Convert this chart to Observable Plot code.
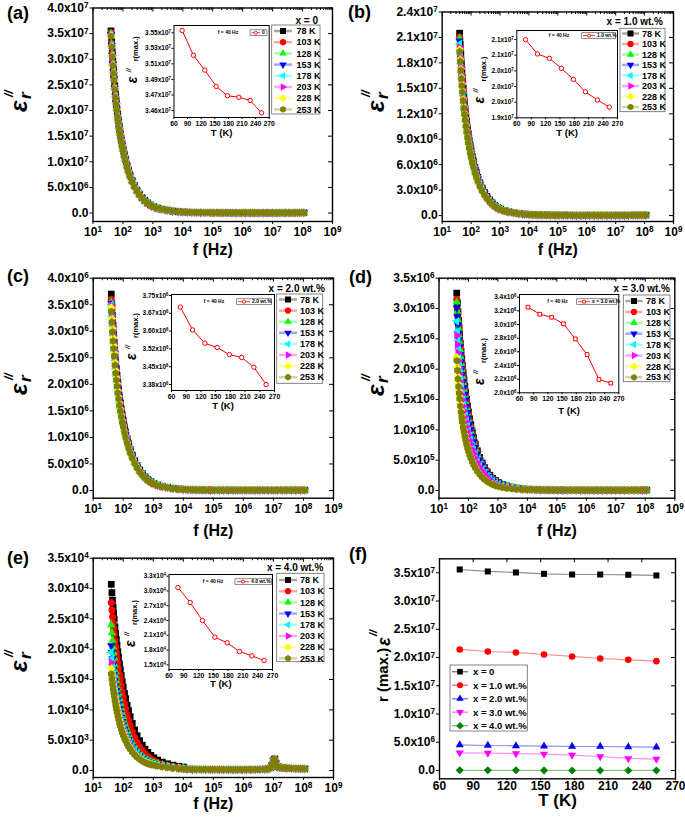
<!DOCTYPE html>
<html><head><meta charset="utf-8">
<script src="https://cdn.jsdelivr.net/npm/d3@7"></script>
<script src="https://cdn.jsdelivr.net/npm/@observablehq/plot@0.6"></script>
<style>
body{margin:0;background:#fff;}
#wrap{position:relative;width:685px;height:819px;overflow:hidden;background:#fff;}
</style></head><body><div id="wrap"></div>
<script>
// ---------------- DATA ----------------
const temps = ["78 K","103 K","128 K","153 K","178 K","203 K","228 K","253 K"];
const tempK = [78,103,128,153,178,203,228,253];
const freq = [40,42,44,46,48,50,53,56,59,62,66,70,75,80,86,93,100,110,120,135,150,170,200,240,290,350,430,530,660,830,1050,1400,2000,3000,4500,7000,10000];
const tailFreq = [1.4e4,2e4,2.8e4,4e4,5.6e4,8e4,1.1e5,1.6e5,2.2e5,3.2e5,4.5e5,6.3e5,9e5,1.26e6,1.8e6,2.5e6,3.5e6,5e6,7e6,1e7,1.4e7,2e7,2.8e7,4e7,5.6e7,8e7,1.1e8];
const tailFreqE = [1.4e4,2e4,2.8e4,4e4,5.6e4,8e4,1.1e5,1.6e5,2.2e5,3.2e5,4.5e5,6.3e5,9e5,1.26e6,1.8e6,2.5e6,3.5e6,5e6,6.5e6,8e6,9e6,1e7,1.1e7,1.2e7,1.35e7,1.6e7,2e7,2.8e7,4e7,5.6e7,8e7,1.1e8];

// panel (a), x = 0, units 1e7
const a78 = [3.553,3.340,3.144,2.967,2.814,2.672,2.487,2.327,2.192,2.071,1.936,1.819,1.691,1.581,1.467,1.357,1.265,1.151,1.055,0.938,0.846,0.746,0.640,0.537,0.448,0.373,0.306,0.249,0.199,0.160,0.128,0.099,0.075,0.057,0.039,0.028,0.021];
const a103 = [3.521,3.310,3.116,2.940,2.789,2.648,2.465,2.306,2.172,2.053,1.919,1.803,1.676,1.567,1.454,1.345,1.253,1.141,1.046,0.930,0.838,0.739,0.634,0.532,0.444,0.370,0.303,0.246,0.197,0.158,0.127,0.099,0.074,0.056,0.039,0.028,0.021];
const a128 = [3.502,3.292,3.099,2.924,2.774,2.634,2.451,2.294,2.161,2.042,1.909,1.793,1.667,1.558,1.446,1.338,1.247,1.135,1.040,0.925,0.833,0.735,0.630,0.529,0.441,0.368,0.301,0.245,0.196,0.158,0.126,0.098,0.074,0.056,0.039,0.028,0.021];
const a153 = [3.481,3.272,3.081,2.907,2.757,2.618,2.437,2.280,2.148,2.029,1.897,1.782,1.657,1.549,1.438,1.330,1.239,1.128,1.034,0.919,0.828,0.731,0.627,0.526,0.439,0.366,0.299,0.244,0.195,0.157,0.125,0.097,0.073,0.056,0.038,0.028,0.021];
const a178 = [3.469,3.261,3.070,2.897,2.747,2.609,2.428,2.272,2.140,2.022,1.891,1.776,1.651,1.544,1.433,1.325,1.235,1.124,1.030,0.916,0.826,0.728,0.624,0.524,0.437,0.364,0.298,0.243,0.194,0.156,0.125,0.097,0.073,0.056,0.038,0.028,0.021];
const a203 = [3.467,3.259,3.068,2.895,2.746,2.607,2.427,2.271,2.139,2.021,1.889,1.775,1.650,1.543,1.432,1.324,1.234,1.123,1.030,0.915,0.825,0.728,0.624,0.524,0.437,0.364,0.298,0.243,0.194,0.156,0.125,0.097,0.073,0.055,0.038,0.028,0.021];
const a228 = [3.463,3.255,3.065,2.892,2.743,2.604,2.424,2.268,2.137,2.019,1.887,1.773,1.648,1.541,1.430,1.323,1.233,1.122,1.029,0.914,0.824,0.727,0.623,0.523,0.436,0.364,0.298,0.242,0.194,0.156,0.125,0.097,0.073,0.055,0.038,0.028,0.021];
const a253 = [3.447,3.240,3.051,2.878,2.730,2.592,2.413,2.258,2.127,2.010,1.879,1.765,1.641,1.534,1.424,1.317,1.227,1.117,1.024,0.910,0.820,0.724,0.620,0.520,0.434,0.362,0.296,0.241,0.193,0.155,0.124,0.097,0.072,0.055,0.038,0.028,0.021];
const tailA = [0.016,0.013,0.011,0.009,0.008,0.007,0.006,0.006,0.005,0.005,0.005,0.004,0.004,0.004,0.004,0.004,0.004,0.004,0.004,0.004,0.004,0.005,0.005,0.005,0.006,0.006,0.007];

// panel (b), x = 1.0 wt.%, units 1e7
const b78 = [2.150,2.021,1.903,1.795,1.703,1.617,1.505,1.408,1.327,1.253,1.172,1.101,1.023,0.957,0.888,0.821,0.765,0.697,0.639,0.568,0.512,0.452,0.387,0.325,0.271,0.226,0.185,0.151,0.120,0.097,0.077,0.060,0.045,0.034,0.024,0.017,0.013];
const b103 = [2.104,1.978,1.862,1.757,1.666,1.582,1.473,1.378,1.298,1.227,1.147,1.077,1.002,0.936,0.869,0.804,0.749,0.682,0.625,0.555,0.501,0.442,0.379,0.318,0.265,0.221,0.181,0.147,0.118,0.095,0.076,0.059,0.044,0.034,0.023,0.017,0.013];
const b128 = [2.090,1.965,1.850,1.745,1.655,1.572,1.463,1.369,1.290,1.218,1.139,1.070,0.995,0.930,0.863,0.798,0.744,0.677,0.621,0.552,0.497,0.439,0.376,0.316,0.263,0.219,0.180,0.146,0.117,0.094,0.075,0.059,0.044,0.033,0.023,0.017,0.013];
const b153 = [2.058,1.935,1.821,1.718,1.630,1.548,1.441,1.348,1.270,1.200,1.122,1.054,0.980,0.916,0.850,0.786,0.733,0.667,0.611,0.543,0.490,0.432,0.370,0.311,0.259,0.216,0.177,0.144,0.115,0.093,0.074,0.058,0.043,0.033,0.023,0.016,0.012];
const b178 = [2.023,1.902,1.790,1.689,1.602,1.521,1.416,1.325,1.248,1.179,1.103,1.036,0.963,0.900,0.835,0.773,0.720,0.655,0.601,0.534,0.481,0.425,0.364,0.305,0.255,0.212,0.174,0.142,0.113,0.091,0.073,0.057,0.042,0.032,0.022,0.016,0.012];
const b203 = [1.983,1.864,1.755,1.656,1.571,1.491,1.388,1.299,1.224,1.156,1.081,1.015,0.944,0.882,0.819,0.758,0.706,0.643,0.589,0.524,0.472,0.416,0.357,0.299,0.250,0.208,0.171,0.139,0.111,0.089,0.071,0.056,0.042,0.032,0.022,0.016,0.012];
const b228 = [1.957,1.840,1.732,1.634,1.550,1.472,1.370,1.282,1.207,1.141,1.067,1.002,0.932,0.871,0.808,0.748,0.697,0.634,0.581,0.517,0.466,0.411,0.352,0.296,0.247,0.205,0.168,0.137,0.110,0.088,0.070,0.055,0.041,0.031,0.022,0.016,0.012];
const b253 = [1.934,1.818,1.712,1.615,1.532,1.454,1.354,1.267,1.193,1.128,1.054,0.990,0.921,0.861,0.799,0.739,0.689,0.627,0.574,0.511,0.460,0.406,0.348,0.292,0.244,0.203,0.166,0.135,0.108,0.087,0.070,0.054,0.041,0.031,0.021,0.015,0.012];
const tailB = [0.010,0.008,0.007,0.006,0.005,0.005,0.004,0.004,0.004,0.003,0.003,0.003,0.003,0.003,0.003,0.003,0.003,0.003,0.003,0.003,0.003,0.003,0.003,0.004,0.004,0.004,0.005];

// panel (c), x = 2.0 wt.%, units 1e6
const c78 = [3.701,3.479,3.275,3.090,2.931,2.783,2.591,2.424,2.284,2.158,2.017,1.895,1.762,1.647,1.529,1.414,1.318,1.199,1.099,0.977,0.881,0.777,0.666,0.559,0.466,0.389,0.318,0.259,0.207,0.167,0.133,0.104,0.078,0.059,0.041,0.030,0.022];
const c103 = [3.605,3.389,3.190,3.010,2.855,2.711,2.524,2.361,2.224,2.102,1.965,1.846,1.716,1.604,1.489,1.377,1.283,1.168,1.071,0.952,0.858,0.757,0.649,0.544,0.454,0.379,0.310,0.252,0.202,0.162,0.130,0.101,0.076,0.058,0.040,0.029,0.022];
const c128 = [3.549,3.336,3.141,2.963,2.811,2.669,2.484,2.325,2.190,2.069,1.934,1.817,1.689,1.579,1.466,1.356,1.263,1.150,1.054,0.937,0.845,0.745,0.639,0.536,0.447,0.373,0.305,0.248,0.199,0.160,0.128,0.099,0.075,0.057,0.039,0.028,0.021];
const c153 = [3.531,3.319,3.125,2.948,2.797,2.655,2.472,2.313,2.179,2.059,1.924,1.808,1.681,1.571,1.458,1.349,1.257,1.144,1.049,0.932,0.840,0.742,0.636,0.533,0.445,0.371,0.304,0.247,0.198,0.159,0.127,0.099,0.074,0.056,0.039,0.028,0.021];
const c178 = [3.501,3.291,3.098,2.923,2.773,2.633,2.451,2.293,2.160,2.041,1.908,1.793,1.666,1.558,1.446,1.337,1.246,1.134,1.040,0.924,0.833,0.735,0.630,0.529,0.441,0.368,0.301,0.245,0.196,0.158,0.126,0.098,0.074,0.056,0.039,0.028,0.021];
const c203 = [3.489,3.280,3.088,2.913,2.763,2.624,2.442,2.285,2.153,2.034,1.902,1.786,1.661,1.553,1.441,1.333,1.242,1.130,1.036,0.921,0.830,0.733,0.628,0.527,0.440,0.366,0.300,0.244,0.195,0.157,0.126,0.098,0.073,0.056,0.038,0.028,0.021];
const c228 = [3.448,3.241,3.051,2.879,2.731,2.593,2.414,2.258,2.127,2.010,1.879,1.765,1.641,1.534,1.424,1.317,1.227,1.117,1.024,0.910,0.821,0.724,0.621,0.521,0.434,0.362,0.297,0.241,0.193,0.155,0.124,0.097,0.072,0.055,0.038,0.028,0.021];
const c253 = [3.375,3.173,2.987,2.818,2.673,2.538,2.363,2.211,2.082,1.968,1.839,1.728,1.607,1.502,1.394,1.289,1.202,1.094,1.002,0.891,0.803,0.709,0.608,0.510,0.425,0.354,0.290,0.236,0.189,0.152,0.122,0.095,0.071,0.054,0.037,0.027,0.020];
const tailC = [0.017,0.014,0.012,0.010,0.009,0.008,0.007,0.007,0.006,0.006,0.006,0.005,0.005,0.005,0.005,0.005,0.005,0.005,0.005,0.005,0.005,0.005,0.006,0.006,0.006,0.007,0.007];

// panel (d), x = 3.0 wt.%, units 1e6
const d78 = [3.254,3.091,2.945,2.805,2.685,2.571,2.424,2.294,2.174,2.070,1.946,1.839,1.718,1.614,1.503,1.393,1.295,1.181,1.087,0.966,0.869,0.768,0.654,0.547,0.456,0.377,0.309,0.251,0.202,0.163,0.130,0.101,0.075,0.055,0.039,0.026,0.020];
const d103 = [3.151,2.993,2.852,2.716,2.600,2.489,2.347,2.221,2.105,2.004,1.884,1.780,1.664,1.563,1.456,1.349,1.254,1.144,1.052,0.936,0.841,0.744,0.633,0.529,0.441,0.366,0.299,0.243,0.195,0.158,0.126,0.098,0.072,0.054,0.038,0.025,0.019];
const d128 = [3.107,2.952,2.812,2.678,2.563,2.455,2.315,2.190,2.075,1.976,1.858,1.755,1.640,1.541,1.435,1.330,1.237,1.128,1.038,0.923,0.830,0.733,0.625,0.522,0.435,0.360,0.295,0.239,0.193,0.155,0.124,0.096,0.071,0.053,0.037,0.025,0.019];
const d153 = [3.010,2.860,2.724,2.595,2.483,2.378,2.242,2.122,2.011,1.914,1.800,1.701,1.589,1.493,1.391,1.288,1.198,1.093,1.005,0.894,0.804,0.710,0.605,0.506,0.421,0.349,0.286,0.232,0.187,0.151,0.120,0.093,0.069,0.051,0.036,0.024,0.018];
const d178 = [2.790,2.623,2.469,2.330,2.210,2.098,1.953,1.827,1.721,1.627,1.521,1.428,1.328,1.242,1.152,1.066,0.993,0.904,0.829,0.737,0.664,0.586,0.502,0.421,0.352,0.293,0.240,0.195,0.156,0.126,0.100,0.078,0.059,0.045,0.031,0.022,0.017];
const d203 = [2.560,2.406,2.266,2.138,2.028,1.925,1.792,1.677,1.580,1.492,1.395,1.311,1.219,1.139,1.057,0.978,0.911,0.829,0.760,0.676,0.609,0.538,0.461,0.387,0.323,0.269,0.220,0.179,0.143,0.115,0.092,0.072,0.054,0.041,0.028,0.020,0.015];
const d228 = [2.195,2.030,1.883,1.756,1.646,1.550,1.427,1.324,1.236,1.159,1.071,0.999,0.918,0.852,0.784,0.720,0.665,0.601,0.549,0.485,0.435,0.382,0.325,0.272,0.226,0.189,0.154,0.125,0.101,0.081,0.066,0.050,0.037,0.029,0.020,0.015,0.011];
const d253 = [2.141,1.980,1.837,1.713,1.606,1.512,1.392,1.291,1.205,1.130,1.045,0.974,0.895,0.831,0.764,0.702,0.649,0.587,0.535,0.473,0.424,0.373,0.317,0.265,0.221,0.184,0.150,0.122,0.098,0.079,0.064,0.049,0.036,0.028,0.019,0.015,0.011];
const tailD = [0.016,0.013,0.011,0.010,0.009,0.008,0.007,0.007,0.006,0.006,0.006,0.005,0.005,0.005,0.005,0.005,0.005,0.005,0.005,0.005,0.005,0.005,0.006,0.006,0.006,0.007,0.007];

// panel (e), x = 4.0 wt.%, units 1e4
const e78 = [3.070,2.932,2.809,2.695,2.594,2.496,2.370,2.260,2.158,2.066,1.959,1.863,1.756,1.661,1.563,1.461,1.375,1.271,1.185,1.075,0.985,0.887,0.777,0.669,0.574,0.491,0.418,0.353,0.298,0.249,0.209,0.172,0.138,0.111,0.089,0.071,0.058];
const e103 = [2.770,2.645,2.535,2.432,2.341,2.252,2.138,2.039,1.947,1.864,1.767,1.681,1.584,1.499,1.400,1.298,1.210,1.105,1.020,0.915,0.830,0.738,0.638,0.543,0.462,0.392,0.330,0.277,0.232,0.193,0.160,0.132,0.105,0.084,0.067,0.053,0.042];
const e128 = [2.400,2.268,2.148,2.040,1.944,1.853,1.733,1.630,1.538,1.457,1.361,1.277,1.186,1.106,1.025,0.943,0.876,0.799,0.737,0.658,0.595,0.530,0.458,0.391,0.334,0.283,0.238,0.199,0.168,0.149,0.132,0.110,0.091,0.072,0.058,0.046,0.036];
const e153 = [2.060,1.947,1.844,1.751,1.669,1.590,1.487,1.399,1.320,1.250,1.168,1.096,1.018,0.950,0.880,0.810,0.752,0.686,0.632,0.564,0.511,0.455,0.393,0.336,0.286,0.243,0.204,0.171,0.144,0.128,0.113,0.095,0.078,0.062,0.049,0.039,0.031];
const e178 = [1.950,1.843,1.745,1.658,1.580,1.505,1.408,1.324,1.250,1.184,1.106,1.037,0.963,0.899,0.833,0.766,0.712,0.649,0.599,0.534,0.484,0.431,0.372,0.318,0.271,0.230,0.193,0.162,0.137,0.121,0.107,0.090,0.074,0.059,0.047,0.037,0.029];
const e203 = [1.780,1.682,1.593,1.513,1.442,1.374,1.285,1.209,1.141,1.080,1.009,0.947,0.879,0.821,0.760,0.700,0.650,0.593,0.546,0.488,0.441,0.393,0.340,0.290,0.247,0.210,0.176,0.148,0.125,0.110,0.098,0.082,0.068,0.053,0.043,0.034,0.027];
const e228 = [1.680,1.588,1.504,1.428,1.361,1.297,1.213,1.141,1.077,1.020,0.953,0.894,0.830,0.774,0.717,0.660,0.613,0.559,0.516,0.460,0.417,0.371,0.321,0.274,0.234,0.198,0.166,0.139,0.118,0.104,0.092,0.077,0.064,0.050,0.040,0.032,0.025];
const e253 = [1.590,1.503,1.423,1.352,1.288,1.227,1.148,1.080,1.019,0.965,0.902,0.846,0.785,0.733,0.679,0.625,0.580,0.529,0.488,0.436,0.394,0.351,0.304,0.259,0.221,0.188,0.157,0.132,0.111,0.099,0.087,0.073,0.060,0.048,0.038,0.030,0.024];
const tailE = [0.022,0.020,0.019,0.018,0.017,0.016,0.016,0.015,0.015,0.015,0.014,0.014,0.014,0.015,0.015,0.016,0.018,0.021,0.026,0.045,0.090,0.160,0.190,0.120,0.070,0.050,0.045,0.040,0.035,0.032,0.030,0.030];

// insets: eps''r(max.) at f = 40 Hz
const insetA = [3.553,3.521,3.502,3.481,3.469,3.467,3.463,3.447]; // 1e7
const insetB = [2.150,2.104,2.090,2.058,2.023,1.983,1.957,1.934]; // 1e7
const insetC = [3.701,3.605,3.549,3.531,3.501,3.489,3.448,3.375]; // 1e6
const insetD = [3.254,3.151,3.107,3.010,2.790,2.560,2.195,2.141]; // 1e6
const insetE = [3.070,2.765,2.400,2.061,1.946,1.770,1.682,1.588]; // 1e4

// panel (f), units 1e7
const fX0 = [3.559,3.524,3.506,3.482,3.470,3.470,3.465,3.453];
const fX1 = [2.143,2.107,2.090,2.054,2.019,1.983,1.960,1.936];
const fX2 = [0.455,0.443,0.437,0.431,0.425,0.425,0.419,0.413];
const fX3 = [0.313,0.307,0.301,0.289,0.272,0.248,0.213,0.201];
const fX4 = [0.0031,0.0028,0.0024,0.0021,0.0019,0.0018,0.0017,0.0016];
const fNames = ["x = 0","x = 1.0 wt.%","x = 2.0 wt.%","x = 3.0 wt.%","x = 4.0 wt.%"];

// tick values and labels
const xTicks = [1e1,1e2,1e3,1e4,1e5,1e6,1e7,1e8,1e9];
const xLabels = ["10^1","10^2","10^3","10^4","10^5","10^6","10^7","10^8","10^9"];
const tTicks = [60,90,120,150,180,210,240,270];
const tLabels = ["60","90","120","150","180","210","240","270"];
const yTicksA = [0,5e6,1e7,1.5e7,2e7,2.5e7,3e7,3.5e7,4e7];
const yLabelsA = ["0.0","5.0x10^6","1.0x10^7","1.5x10^7","2.0x10^7","2.5x10^7","3.0x10^7","3.5x10^7","4.0x10^7"];
const yTicksB = [0,3e6,6e6,9e6,1.2e7,1.5e7,1.8e7,2.1e7,2.4e7];
const yLabelsB = ["0.0","3.0x10^6","6.0x10^6","9.0x10^6","1.2x10^7","1.5x10^7","1.8x10^7","2.1x10^7","2.4x10^7"];
const yTicksC = [0,5e5,1e6,1.5e6,2e6,2.5e6,3e6,3.5e6,4e6];
const yLabelsC = ["0.0","5.0x10^5","1.0x10^6","1.5x10^6","2.0x10^6","2.5x10^6","3.0x10^6","3.5x10^6","4.0x10^6"];
const yTicksD = [0,5e5,1e6,1.5e6,2e6,2.5e6,3e6,3.5e6];
const yLabelsD = ["0.0","5.0x10^5","1.0x10^6","1.5x10^6","2.0x10^6","2.5x10^6","3.0x10^6","3.5x10^6"];
const yTicksE = [0,5e3,1e4,1.5e4,2e4,2.5e4,3e4,3.5e4];
const yLabelsE = ["0.0","5.0x10^3","1.0x10^4","1.5x10^4","2.0x10^4","2.5x10^4","3.0x10^4","3.5x10^4"];
const yTicksF = [0,5e6,1e7,1.5e7,2e7,2.5e7,3e7,3.5e7];
const yLabelsF = ["0.0","5.0x10^6","1.0x10^7","1.5x10^7","2.0x10^7","2.5x10^7","3.0x10^7","3.5x10^7"];
const iTicksA = [3.55e7,3.53e7,3.51e7,3.49e7,3.47e7,3.45e7];
const iLabelsA = ["3.55x10^7","3.53x10^7","3.51x10^7","3.49x10^7","3.47x10^7","3.46x10^7"];
const iTicksB = [2.15e7,2.10e7,2.05e7,2.00e7,1.95e7,1.90e7];
const iLabelsB = ["2.1x10^7","2.1x10^7","2.0x10^7","2.0x10^7","2.0x10^7","1.9x10^7"];
const iTicksC = [3.75e6,3.675e6,3.60e6,3.525e6,3.45e6,3.375e6];
const iLabelsC = ["3.75x10^6","3.67x10^6","3.60x10^6","3.52x10^6","3.45x10^6","3.38x10^6"];
const iTicksD = [3.4e6,3.2e6,3.0e6,2.8e6,2.6e6,2.4e6,2.2e6,2.0e6];
const iLabelsD = ["3.4x10^6","3.2x10^6","3.0x10^6","2.8x10^6","2.6x10^6","2.4x10^6","2.2x10^6","2.0x10^6"];
const iTicksE = [3.3e4,3.0e4,2.7e4,2.4e4,2.1e4,1.8e4,1.5e4];
const iLabelsE = ["3.3x10^4","3.0x10^4","2.7x10^4","2.4x10^4","2.1x10^4","1.8x10^4","1.5x10^4"];

// ---------------- STYLE ----------------
const colors = ["#000000","#ff0000","#00ff00","#0000ff","#00ffff","#ff00ff","#ffff00","#808000"];
const fColors = ["#000000","#ff0000","#0000ff","#ff00ff","#008000"];
const S3 = Math.sqrt(3);
function triSym(rot) {
  return {draw(ctx, size) {
    const y = -Math.sqrt(size / (S3 * 3));
    const pts = [[0, y * 2], [-S3 * y, -y], [S3 * y, -y]].map(([x, yy]) =>
      rot === 0 ? [x, yy] : rot === 180 ? [-x, -yy] : rot === 90 ? [-yy, x] : [yy, -x]);
    ctx.moveTo(pts[0][0], pts[0][1]); ctx.lineTo(pts[1][0], pts[1][1]); ctx.lineTo(pts[2][0], pts[2][1]); ctx.closePath();
  }};
}
const triUp = triSym(0), triDown = triSym(180), triRight = triSym(90), triLeft = triSym(-90);
const diamondSym = {draw(ctx, size) { const d = Math.sqrt(size / 2); ctx.moveTo(0, -d); ctx.lineTo(d, 0); ctx.lineTo(0, d); ctx.lineTo(-d, 0); ctx.closePath(); }};
const hexSym = {draw(ctx, size) { const rr = Math.sqrt(size / (1.5 * S3)); for (let i = 0; i < 6; i++) { const a = Math.PI / 3 * i - Math.PI / 2; const x = rr * Math.cos(a), y = rr * Math.sin(a); if (i) ctx.lineTo(x, y); else ctx.moveTo(x, y); } ctx.closePath(); }};
const symbols = [d3.symbolSquare, d3.symbolCircle, triUp, triDown, triLeft, triRight, diamondSym, hexSym];
const radii = [3.8, 3.5, 3.1, 3.1, 3.1, 3.1, 3.4, 3.4];
const fSymbols = [d3.symbolSquare, d3.symbolCircle, triUp, triDown, diamondSym];
const fRadii = [3.4, 3.3, 3.0, 3.0, 3.2];
const FONT = "'Liberation Sans', Arial, sans-serif";
const xMinor = d3.range(1, 9).flatMap(e => d3.range(2, 10).map(k => k * Math.pow(10, e)));

const wrap = document.getElementById("wrap");
function place(svg, left, top) {
  svg.style.position = "absolute"; svg.style.left = left + "px"; svg.style.top = top + "px";
  wrap.appendChild(svg);
}
function supify(svg) {
  const ns = "http://www.w3.org/2000/svg";
  svg.querySelectorAll("text").forEach(t => {
    const s = t.textContent;
    if (!s || s.indexOf("^") < 0 || t.querySelector("tspan")) return;
    const [a, b] = s.split("^");
    t.textContent = "";
    const t1 = document.createElementNS(ns, "tspan"); t1.textContent = a; t.appendChild(t1);
    const t2 = document.createElementNS(ns, "tspan"); t2.textContent = b;
    t2.setAttribute("dy", "-0.45em"); t2.setAttribute("font-size", "0.68em"); t.appendChild(t2);
  });
}
function styleFor(fs) {
  return {background: "transparent", overflow: "visible", fontFamily: FONT, fontWeight: "bold", fontSize: fs + "px", color: "#000"};
}

// ---------------- MAIN PANELS ----------------
function mainPanel(o) {
  const marks = [];
  o.series.forEach((vals, k) => {
    const rows = freq.map((f, i) => ({f, v: vals[i] * o.unit}))
      .concat(o.tailFreq.map((f, i) => ({f, v: o.tail[i] * o.unit})));
    marks.push(Plot.line(rows, {x: "f", y: "v", stroke: colors[k], strokeWidth: 1.5, strokeOpacity: 0.4}));
    marks.push(Plot.dot(rows, {x: "f", y: "v", symbol: symbols[k], r: radii[k], fill: colors[k]}));
  });
  const fw = o.w - o.ml - o.mr, fh = o.h - o.mt - o.mb;
  marks.push(Plot.frame({stroke: "#000", strokeWidth: 1.4}));
  marks.push(Plot.axisY({ticks: o.yTicks, tickFormat: d => o.yLabels[o.yTicks.indexOf(d)], tickSize: 3, tickPadding: 1.5, label: null}));
  marks.push(Plot.axisX({ticks: xTicks, tickFormat: d => xLabels[xTicks.indexOf(d)], tickSize: 3, tickPadding: 3, label: null}));
  marks.push(Plot.tickX(xTicks, {x: d => d, insetBottom: fh - 4, strokeWidth: 1}));
  marks.push(Plot.tickX(xMinor, {x: d => d, insetBottom: fh - 2.5, strokeWidth: 1}));
  marks.push(Plot.tickY(o.yTicks, {y: d => d, insetLeft: fw - 4, strokeWidth: 1}));
  marks.push(Plot.text(["f (Hz)"], {text: d => d, frameAnchor: "bottom", dy: o.xlabelDy, fontSize: 16, fontWeight: "bold"}));
  const svg = Plot.plot({
    width: o.w, height: o.h, marginLeft: o.ml, marginRight: o.mr, marginTop: o.mt, marginBottom: o.mb,
    x: {type: "log", domain: [10, 1e9]}, y: {domain: o.ydom},
    style: styleFor(12), marks
  });
  supify(svg);
  place(svg, o.left, o.top);
}

mainPanel({left: 0, top: 0, w: 340, h: 262, ml: 92.5, mr: 8, mt: 7.5, mb: 41, unit: 1e7, ydom: [-1.65e6, 4.0e7],
  series: [a78, a103, a128, a153, a178, a203, a228, a253], tail: tailA, tailFreq, yTicks: yTicksA, yLabels: yLabelsA, xlabelDy: 33});
mainPanel({left: 340, top: 0, w: 345, h: 262, ml: 101.7, mr: 12, mt: 11.5, mb: 41, unit: 1e7, ydom: [-0.7e6, 2.4e7],
  series: [b78, b103, b128, b153, b178, b203, b228, b253], tail: tailB, tailFreq, yTicks: yTicksB, yLabels: yLabelsB, xlabelDy: 33});
mainPanel({left: 0, top: 262, w: 340, h: 283, ml: 92.7, mr: 7, mt: 15.7, mb: 47.3, unit: 1e6, ydom: [-0.145e6, 4.0e6],
  series: [c78, c103, c128, c153, c178, c203, c228, c253], tail: tailC, tailFreq, yTicks: yTicksC, yLabels: yLabelsC, xlabelDy: 38});
mainPanel({left: 340, top: 262, w: 345, h: 283, ml: 98.5, mr: 10.7, mt: 15.7, mb: 47.3, unit: 1e6, ydom: [-0.127e6, 3.5e6],
  series: [d78, d103, d128, d153, d178, d203, d228, d253], tail: tailD, tailFreq, yTicks: yTicksD, yLabels: yLabelsD, xlabelDy: 38});
mainPanel({left: 0, top: 545, w: 340, h: 274, ml: 92.7, mr: 7, mt: 12.7, mb: 42, unit: 1e4, ydom: [-1150, 35000],
  series: [e78, e103, e128, e153, e178, e203, e228, e253], tail: tailE, tailFreq: tailFreqE, yTicks: yTicksE, yLabels: yLabelsE, xlabelDy: 31});

// ---------------- PANEL (f) ----------------
(function () {
  const w = 345, h = 274, ml = 99, mr = 10, mt = 13.3, mb = 40.7;
  const fw = w - ml - mr, fh = h - mt - mb;
  const marks = [];
  [fX0, fX1, fX2, fX3, fX4].forEach((vals, k) => {
    const rows = tempK.map((t, i) => ({t, v: vals[i] * 1e7}));
    marks.push(Plot.line(rows, {x: "t", y: "v", stroke: fColors[k], strokeWidth: 1.2, strokeOpacity: 0.45}));
    marks.push(Plot.dot(rows, {x: "t", y: "v", symbol: fSymbols[k], r: fRadii[k], fill: fColors[k]}));
  });
  marks.push(Plot.frame({stroke: "#000", strokeWidth: 1.4}));
  marks.push(Plot.axisY({ticks: yTicksF, tickFormat: d => yLabelsF[yTicksF.indexOf(d)], tickSize: 3, tickPadding: 1.5, label: null}));
  marks.push(Plot.axisX({ticks: tTicks, tickFormat: d => tLabels[tTicks.indexOf(d)], tickSize: 2, tickPadding: 0.5, label: null}));
  marks.push(Plot.tickX(tTicks, {x: d => d, insetBottom: fh - 4}));
  marks.push(Plot.tickY(yTicksF, {y: d => d, insetLeft: fw - 4}));
  marks.push(Plot.text(["T (K)"], {text: d => d, frameAnchor: "bottom", dy: 27, fontSize: 17, fontWeight: "bold"}));
  const svg = Plot.plot({width: w, height: h, marginLeft: ml, marginRight: mr, marginTop: mt, marginBottom: mb,
    x: {domain: [60, 270]}, y: {domain: [-1.47e6, 3.748e7]}, style: styleFor(12), marks});
  supify(svg);
  place(svg, 340, 545);
})();

// ---------------- INSETS ----------------
function inset(o) {
  const rows = tempK.map((t, i) => ({t, v: o.vals[i] * o.unit}));
  const marks = [
    Plot.frame({fill: "#fff"}),
    Plot.line(rows, {x: "t", y: "v", stroke: "#ff0000", strokeWidth: 1}),
    Plot.dot(rows, {x: "t", y: "v", symbol: o.symbol, r: o.r, stroke: "#ff0000", strokeWidth: 1, fill: "#fff"}),
    Plot.frame({stroke: "#000", strokeWidth: 1}),
    Plot.axisY({ticks: o.yTicks, tickFormat: d => o.yLabels[o.yTicks.indexOf(d)], tickSize: 2, tickPadding: 1, label: null, fontSize: 6.5}),
    Plot.axisX({ticks: tTicks, tickFormat: d => tLabels[tTicks.indexOf(d)], tickSize: 2, tickPadding: 1.5, label: null, fontSize: 6.8}),
    Plot.text(["T (K)"], {text: d => d, frameAnchor: "bottom", dy: o.tdy, fontSize: 9.5, fontWeight: "bold"})
  ];
  const svg = Plot.plot({width: o.w, height: o.h, marginLeft: o.ml, marginRight: o.mr, marginTop: o.mt, marginBottom: o.mb,
    x: {domain: [60, 270]}, y: {domain: o.ydom}, style: styleFor(6.5), marks});
  supify(svg);
  place(svg, o.left, o.top);
}
inset({left: 130, top: 15, w: 150, h: 130, ml: 43.5, mr: 11.3, mt: 10, mb: 28, vals: insetA, unit: 1e7, ydom: [3.441e7, 3.5594e7], yTicks: iTicksA, yLabels: iLabelsA, symbol: d3.symbolCircle, r: 2.2, tdy: 18});
inset({left: 470, top: 20, w: 155, h: 130, ml: 46.3, mr: 8, mt: 10, mb: 32.7, vals: insetB, unit: 1e7, ydom: [1.90e7, 2.179e7], yTicks: iTicksB, yLabels: iLabelsB, symbol: d3.symbolCircle, r: 2.2, tdy: 18});
inset({left: 125, top: 284, w: 155, h: 130, ml: 46, mr: 6, mt: 10, mb: 24, vals: insetC, unit: 1e6, ydom: [3.350e6, 3.754e6], yTicks: iTicksC, yLabels: iLabelsC, symbol: d3.symbolCircle, r: 2.2, tdy: 18});
inset({left: 470, top: 284, w: 155, h: 135, ml: 49, mr: 6.7, mt: 10, mb: 26.7, vals: insetD, unit: 1e6, ydom: [2.0e6, 3.44e6], yTicks: iTicksD, yLabels: iLabelsD, symbol: d3.symbolSquare, r: 2.1, tdy: 20.7});
inset({left: 125, top: 564, w: 155, h: 130, ml: 43.5, mr: 8, mt: 10, mb: 25, vals: insetE, unit: 1e4, ydom: [1.405e4, 3.334e4], yTicks: iTicksE, yLabels: iLabelsE, symbol: d3.symbolCircle, r: 2.2, tdy: 17.7});

// ---------------- OVERLAY: letters, legends, axis titles ----------------
const ov = d3.select(wrap).append("svg").attr("width", 685).attr("height", 819)
  .style("position", "absolute").style("left", "0px").style("top", "0px")
  .style("font-family", FONT).style("font-weight", "bold").style("pointer-events", "none");

[["(a)", 7, 13], ["(b)", 348, 12], ["(c)", 7, 276], ["(d)", 349, 277], ["(e)", 7, 558], ["(f)", 349, 554]].forEach(([t, x, y]) =>
  ov.append("text").attr("x", x).attr("y", y).attr("dy", "0.35em").attr("font-size", 18).text(t));

function legendMain(o) {
  ov.append("text").attr("x", o.titleX).attr("y", o.titleY).attr("dy", "0.35em").attr("text-anchor", "end").attr("font-size", 10).text(o.title);
  ov.append("rect").attr("x", o.x0).attr("y", o.y0).attr("width", o.x1 - o.x0).attr("height", o.y1 - o.y0)
    .attr("fill", "#fff").attr("stroke", "#666").attr("stroke-width", 0.8);
  o.labels.forEach((lab, k) => {
    const y = o.ey + k * o.step;
    ov.append("line").attr("x1", o.lx0).attr("x2", o.lx1).attr("y1", y).attr("y2", y)
      .attr("stroke", o.colors[k]).attr("stroke-width", 2.5).attr("stroke-opacity", 0.35);
    ov.append("path").attr("d", d3.symbol(o.symbols[k], Math.PI * o.radii[k] * o.radii[k] * 0.8)())
      .attr("transform", `translate(${(o.lx0 + o.lx1) / 2},${y})`).attr("fill", o.colors[k]);
    ov.append("text").attr("x", o.tx).attr("y", y).attr("dy", "0.35em").attr("font-size", o.fs).text(lab);
  });
}
const mainLeg = {labels: temps, colors, symbols, radii, fs: 9};
legendMain({...mainLeg, title: "x = 0", titleX: 318, titleY: 20.5, x0: 271.7, y0: 25, x1: 320, y1: 114, ey: 31, step: 11.2, lx0: 274, lx1: 292, tx: 296.5});
legendMain({...mainLeg, title: "x = 1.0 wt.%", titleX: 663, titleY: 21.7, x0: 620, y0: 28.3, x1: 665, y1: 111.7, ey: 33.5, step: 10.5, lx0: 622, lx1: 639, tx: 642});
legendMain({...mainLeg, title: "x = 2.0 wt.%", titleX: 325, titleY: 288.3, x0: 276.7, y0: 294, x1: 322.7, y1: 383.3, ey: 299.5, step: 11.1, lx0: 279, lx1: 297, tx: 300});
legendMain({...mainLeg, title: "x = 3.0 wt.%", titleX: 670, titleY: 288.3, x0: 623.3, y0: 295, x1: 670, y1: 381.7, ey: 301, step: 10.9, lx0: 625.5, lx1: 642.5, tx: 646});
legendMain({...mainLeg, title: "x = 4.0 wt.%", titleX: 323.3, titleY: 567.7, x0: 276.7, y0: 573.3, x1: 324, y1: 661.7, ey: 580, step: 11.2, lx0: 279, lx1: 297, tx: 300});
// panel (f) legend
(function () {
  ov.append("rect").attr("x", 450).attr("y", 665).attr("width", 77.3).attr("height", 66).attr("fill", "#fff").attr("stroke", "#666").attr("stroke-width", 0.8);
  fNames.forEach((lab, k) => {
    const y = 671.7 + k * 13.5;
    ov.append("line").attr("x1", 452).attr("x2", 468).attr("y1", y).attr("y2", y).attr("stroke", fColors[k]).attr("stroke-width", 1.5).attr("stroke-opacity", 0.5);
    ov.append("path").attr("d", d3.symbol(fSymbols[k], Math.PI * fRadii[k] * fRadii[k] * 0.85)()).attr("transform", `translate(460,${y})`).attr("fill", fColors[k]);
    ov.append("text").attr("x", 473).attr("y", y).attr("dy", "0.35em").attr("font-size", 9.5).text(lab);
  });
})();

// rotated y-axis titles
function rot(x, y, parts) {
  const g = ov.append("g").attr("transform", `translate(${x},${y}) rotate(-90)`);
  parts.forEach(p => g.append("text").attr("x", p.x).attr("y", p.y).attr("font-size", p.s)
    .attr("font-style", p.i ? "italic" : "normal").text(p.t));
}
const mainTitle = [{t: "ε", x: 0, y: 0, s: 24, i: true}, {t: "r", x: 13, y: 4, s: 17, i: true}, {t: "//", x: 15, y: -14, s: 12, i: true}];
[[27, 112], [384, 112], [27, 395], [384, 396], [27, 672]].forEach(([x, y]) => rot(x, y, mainTitle));
rot(388, 702, [{t: "r (max.)", x: 0, y: 0, s: 15, i: false}, {t: "ε", x: 56, y: 2, s: 18, i: true}, {t: "//", x: 66, y: -11, s: 11, i: true}]);
const insetTitle = [{t: "ε", x: 0, y: 0, s: 14, i: true}, {t: "//", x: 11, y: -6, s: 7, i: true}, {t: "r(max.)", x: 22, y: 1.5, s: 7.5, i: false}];
[[136.7, 83.3], [484, 103.5], [136, 360], [484, 385], [135, 647]].forEach(([x, y]) => rot(x, y, insetTitle));

// inset legends
function insetLegend(o) {
  ov.append("text").attr("x", o.fx).attr("y", o.fy).attr("dy", "0.35em").attr("text-anchor", "middle").attr("font-size", 5).text("f = 40 Hz");
  ov.append("rect").attr("x", o.bx0).attr("y", o.by0).attr("width", o.bx1 - o.bx0).attr("height", o.by1 - o.by0)
    .attr("fill", "#fff").attr("stroke", "#444").attr("stroke-width", 0.6);
  const y = (o.by0 + o.by1) / 2;
  ov.append("line").attr("x1", o.lx0).attr("x2", o.lx1).attr("y1", y).attr("y2", y).attr("stroke", "#ff0000").attr("stroke-width", 0.8);
  ov.append("path").attr("d", d3.symbol(o.sym, 8)()).attr("transform", `translate(${(o.lx0 + o.lx1) / 2},${y})`)
    .attr("fill", "#fff").attr("stroke", "#ff0000").attr("stroke-width", 0.8);
  ov.append("text").attr("x", o.lx1 + 2).attr("y", y).attr("dy", "0.35em").attr("font-size", 5).text(o.label);
}
insetLegend({fx: 228, fy: 32.5, bx0: 250, by0: 29.8, bx1: 267, by1: 35.6, lx0: 251.5, lx1: 260, sym: d3.symbolCircle, label: "0"});
insetLegend({fx: 559, fy: 35.5, bx0: 581.7, by0: 32.7, bx1: 615.7, by1: 38.5, lx0: 583, lx1: 595, sym: d3.symbolCircle, label: "1.0 wt.%"});
insetLegend({fx: 214, fy: 301.5, bx0: 236.7, by0: 298.8, bx1: 271.7, by1: 304.6, lx0: 238, lx1: 250, sym: d3.symbolCircle, label: "2.0 wt.%"});
insetLegend({fx: 557.5, fy: 301.5, bx0: 576.7, by0: 298.8, bx1: 616.7, by1: 304.6, lx0: 578, lx1: 590, sym: d3.symbolSquare, label: "x = 3.0 wt.%"});
insetLegend({fx: 213, fy: 581.5, bx0: 235, by0: 578.8, bx1: 271.7, by1: 584.6, lx0: 237, lx1: 249, sym: d3.symbolCircle, label: "4.0 wt.%"});
</script></body></html>
